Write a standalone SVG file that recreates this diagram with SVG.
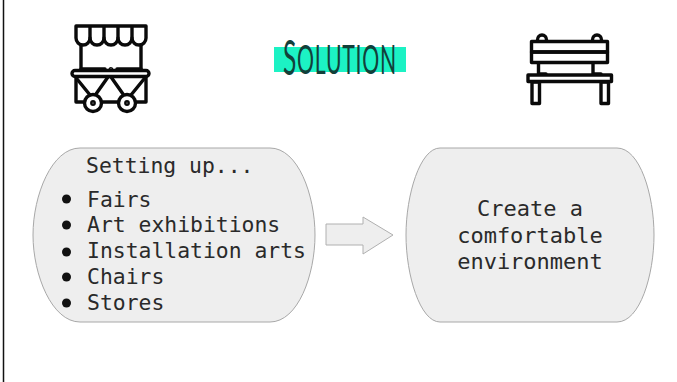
<svg xmlns="http://www.w3.org/2000/svg" width="677" height="382" viewBox="0 0 677 382">
<style>
.ic{fill:none;stroke:#0a0a0a;stroke-width:3.4;stroke-linejoin:round;stroke-linecap:round}
.box{fill:#eeeeee;stroke:#a8a8a8;stroke-width:1}
.t{font-family:"DejaVu Sans Mono",monospace;font-size:21.4px;fill:#2a2a2a}
.r{font-size:22px;text-anchor:middle}
.h{font-family:"Lato","Liberation Sans",sans-serif;font-weight:400;fill:#12403a}
</style>
<rect width="677" height="382" fill="#ffffff"/>
<line x1="3.500" y1="0" x2="3.500" y2="382" stroke="#111" stroke-width="1.500"/>
<g id="cart" class="ic">
<path d="M76 26H146V38A7 7 0 0 1 132 38A7 7 0 0 1 118 38A7 7 0 0 1 104 38A7 7 0 0 1 90 38A7 7 0 0 1 76 38Z"/>
<path d="M90 27V38M104 27V38M118 27V38M132 27V38"/>
<path d="M81 45V69M141 45V69"/>
<path d="M81 69H105M117 69H141"/>
<rect x="72" y="70.500" width="77" height="6" rx="3"/>
<path d="M76 77V102H84M146 77V102H136M102 102H118"/>
<path d="M77 79L90 95M108 77L96 94M111 77L123 94M144 79L131 95"/>
<circle cx="93" cy="103" r="8.500"/>
<circle cx="127" cy="103" r="8.500"/>
<circle cx="93" cy="103" r="1.200"/>
<circle cx="127" cy="103" r="1.200"/>
<circle cx="111" cy="69.500" r="0.800"/>
</g>
<g id="title">
<rect x="274" y="47" width="132" height="25" fill="#1cf2c4"/>
<text class="h" transform="translate(283 75) scale(0.5 1)" font-size="49">S</text>
<text class="h" transform="translate(297 74) scale(0.53 1)" font-size="40" letter-spacing="1.500">OLUTION</text>
</g>
<g id="bench" class="ic">
<path d="M537.500 40A4.500 5 0 0 1 546.500 40M592.500 40A4.500 5 0 0 1 601.500 40"/>
<rect x="531.500" y="41.500" width="76" height="10.500"/>
<rect x="531.500" y="52" width="76" height="10.500"/>
<path d="M538.500 63V74H546M593 63V74H601"/>
<rect x="528" y="75" width="83.500" height="6.500"/>
<rect x="532" y="82" width="7.500" height="21.500"/>
<rect x="601" y="82" width="7.500" height="21.500"/>
</g>
<g id="setting-up">
<path class="box" d="M80 148H270C298 148 315 195 315 235C315 275 298 322 270 322H80C52 322 33 275 33 235C33 195 52 148 80 148Z"/>
<text class="t" x="86" y="173">Setting up...</text>
<text class="t" x="87" y="207">Fairs</text>
<text class="t" x="87" y="232">Art exhibitions</text>
<text class="t" x="87" y="258">Installation arts</text>
<text class="t" x="87" y="284">Chairs</text>
<text class="t" x="87" y="310">Stores</text>
<circle cx="66.500" cy="199" r="4.500" fill="#111"/>
<circle cx="66.500" cy="225" r="4.500" fill="#111"/>
<circle cx="66.500" cy="252" r="4.500" fill="#111"/>
<circle cx="66.500" cy="277" r="4.500" fill="#111"/>
<circle cx="66.500" cy="303" r="4.500" fill="#111"/>
</g>
<g id="connectors">
<path d="M326 224H363V217L393 235L363 254V245H326Z" fill="#eeeeee" stroke="#b0b0b0" stroke-width="1"/>
</g>
<g id="environment">
<path class="box" d="M440 148H617C640 148 654 195 654 235C654 275 640 322 617 322H440C420 322 406 275 406 235C406 195 420 148 440 148Z"/>
<text class="t r" x="530" y="216">Create a</text>
<text class="t r" x="530" y="243">comfortable</text>
<text class="t r" x="530" y="269">environment</text>
</g>
</svg>
